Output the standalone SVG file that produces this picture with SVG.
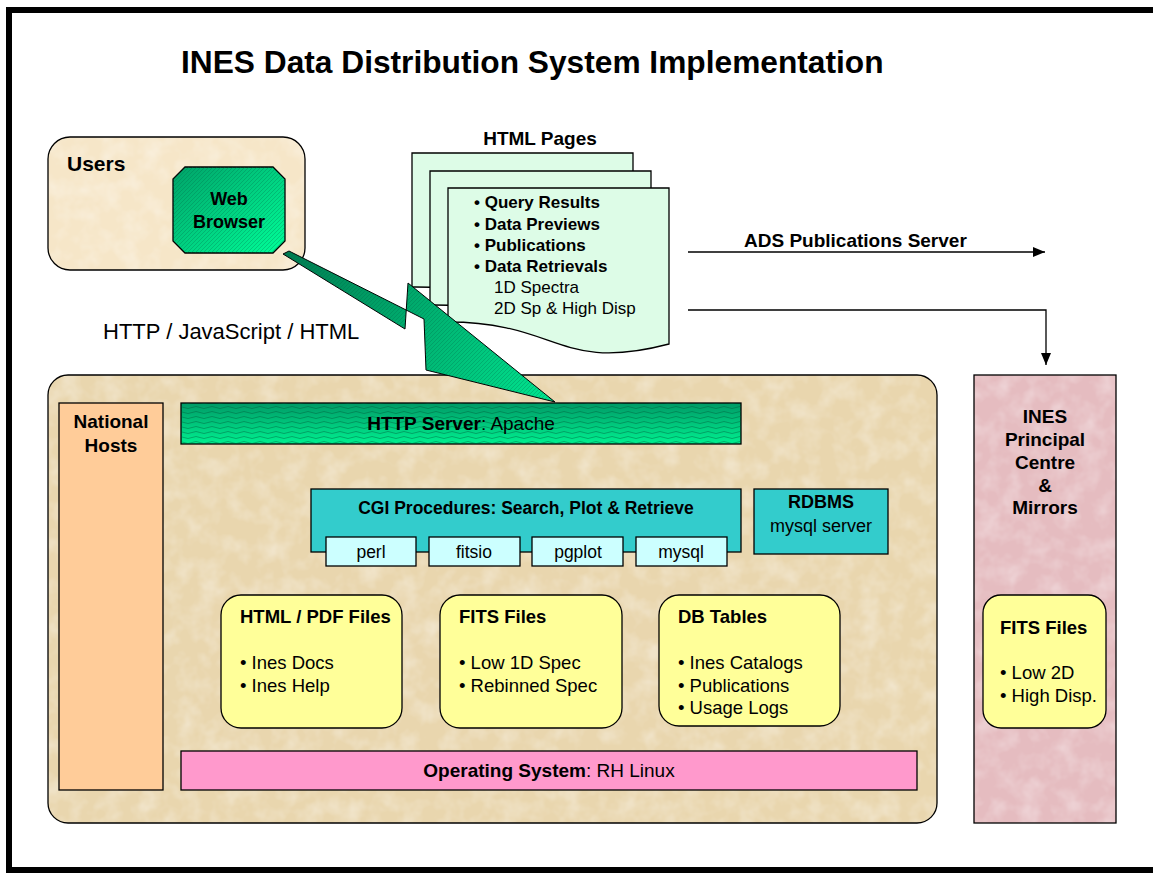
<svg xmlns="http://www.w3.org/2000/svg" width="1153" height="873" viewBox="0 0 1153 873">
<defs>
<style>
text{font-family:"Liberation Sans",Arial,sans-serif;fill:#000}
.b{font-weight:bold}
.edge{stroke:#000;stroke-width:1.3}
.conn{stroke:#000;stroke-width:1.3;fill:none}
</style>
<linearGradient id="gBrowser" x1="0" y1="0" x2="1" y2="1">
<stop offset="0" stop-color="#00a268"/><stop offset="1" stop-color="#00ff99"/>
</linearGradient>
<linearGradient id="gHttp" x1="0" y1="0" x2="0" y2="1">
<stop offset="0" stop-color="#009a66"/><stop offset="1" stop-color="#00f090"/>
</linearGradient>
<linearGradient id="gBolt" gradientUnits="userSpaceOnUse" x1="283" y1="252" x2="555" y2="402">
<stop offset="0" stop-color="#007a50"/><stop offset="1" stop-color="#00e690"/>
</linearGradient>
<pattern id="hatch" width="4" height="4" patternUnits="userSpaceOnUse">
<path d="M-1,5 L5,-1" stroke="#006644" stroke-opacity="0.35" stroke-width="0.8"/>
</pattern>
<pattern id="wave" width="16" height="5" patternUnits="userSpaceOnUse">
<path d="M0,2.5 Q4,0.5 8,2.5 T16,2.5" fill="none" stroke="#005533" stroke-opacity="0.45" stroke-width="0.9"/>
</pattern>
<filter id="grain" x="0" y="0" width="100%" height="100%">
<feTurbulence type="fractalNoise" baseFrequency="0.05" numOctaves="3" seed="4" result="t"/>
<feColorMatrix in="t" type="matrix" values="0 0 0 0 1  0 0 0 0 1  0 0 0 0 1  0 0 0 0.7 -0.28" result="n"/>
<feComposite in="n" in2="SourceAlpha" operator="in"/>
</filter>
<marker id="arrow" markerWidth="12" markerHeight="10" refX="12" refY="5" orient="auto" markerUnits="userSpaceOnUse">
<path d="M0,0 L12,5 L0,10 Z" fill="#000"/>
</marker>
</defs>

<rect x="0" y="0" width="1153" height="873" fill="#fff"/>
<rect id="frame" x="9" y="10" width="1170" height="860" fill="none" stroke="#000" stroke-width="6"/>

<text class="b" x="181" y="73" font-size="31.7">INES Data Distribution System Implementation</text>

<g id="users">
<rect x="48" y="137" width="257" height="133" rx="22" fill="#f6e6c8"/>
<rect x="48" y="137" width="257" height="133" rx="22" fill="#000" filter="url(#grain)"/>
<rect x="48" y="137" width="257" height="133" rx="22" fill="none" class="edge"/>
<text class="b" x="67" y="171" font-size="21">Users</text>
</g>

<g id="web-browser">
<polygon points="185,167 273,167 285,179 285,241 273,253 185,253 173,241 173,179" fill="url(#gBrowser)" class="edge"/>
<polygon points="185,167 273,167 285,179 285,241 273,253 185,253 173,241 173,179" fill="url(#hatch)"/>
<text class="b" x="229" y="205" font-size="18" text-anchor="middle">Web</text>
<text class="b" x="229" y="228" font-size="18" text-anchor="middle">Browser</text>
</g>

<g id="html-pages">
<text class="b" x="540" y="145" font-size="19" text-anchor="middle">HTML Pages</text>
<path d="M412,153 H633 V309 C522.5,330 522.5,286 412,287 Z" fill="#ddfce7" class="edge"/>
<path d="M430,171 H651 V327 C540.5,348 540.5,304 430,305 Z" fill="#ddfce7" class="edge"/>
<path d="M448,188 H669 V344 C558.5,373 558.5,322 448,322 Z" fill="#ddfce7" class="edge"/>
<g font-size="17">
<text class="b" x="474" y="208">• Query Results</text>
<text class="b" x="474" y="230">• Data Previews</text>
<text class="b" x="474" y="251">• Publications</text>
<text class="b" x="474" y="272">• Data Retrievals</text>
<text x="494" y="293">1D Spectra</text>
<text x="494" y="314">2D Sp &amp; High Disp</text>
</g>
</g>

<text x="103" y="339" font-size="22">HTTP / JavaScript / HTML</text>

<g id="national-system">
<rect x="48" y="375" width="889" height="448" rx="20" fill="#e9d6ae"/>
<rect x="48" y="375" width="889" height="448" rx="20" fill="#000" filter="url(#grain)"/>
<rect x="48" y="375" width="889" height="448" rx="20" fill="none" class="edge"/>
</g>

<g id="bolt">
<polygon points="289,251 424,319 426,370 555,402 408,283 405,329 283,254" fill="url(#gBolt)" stroke="#000" stroke-width="1" stroke-linejoin="miter"/>
<polygon points="289,251 424,319 426,370 555,402 408,283 405,329 283,254" fill="url(#hatch)"/>
</g>

<g id="national-hosts">
<rect x="59" y="403" width="104" height="387" fill="#ffcc99" class="edge"/>
<text class="b" x="111" y="428" font-size="19" text-anchor="middle">National</text>
<text class="b" x="111" y="452" font-size="19" text-anchor="middle">Hosts</text>
</g>

<g id="http-server">
<rect x="181" y="403" width="560" height="41" fill="url(#gHttp)" class="edge"/>
<rect x="181" y="403" width="560" height="41" fill="url(#wave)"/>
<text x="461" y="430" font-size="19" text-anchor="middle"><tspan class="b">HTTP Server</tspan>: Apache</text>
</g>

<g id="cgi">
<rect x="311" y="489" width="430" height="63" fill="#33cccc" class="edge"/>
<text class="b" x="526" y="514" font-size="17.5" text-anchor="middle">CGI Procedures: Search, Plot &amp; Retrieve</text>
<rect x="326" y="537" width="90" height="29" fill="#ccffff" class="edge"/>
<text x="371" y="558" font-size="17.5" text-anchor="middle">perl</text>
<rect x="429" y="537" width="91" height="29" fill="#ccffff" class="edge"/>
<text x="474" y="558" font-size="17.5" text-anchor="middle">fitsio</text>
<rect x="532" y="537" width="91" height="29" fill="#ccffff" class="edge"/>
<text x="578" y="558" font-size="17.5" text-anchor="middle">pgplot</text>
<rect x="636" y="537" width="91" height="29" fill="#ccffff" class="edge"/>
<text x="681" y="558" font-size="17.5" text-anchor="middle">mysql</text>
</g>

<g id="rdbms">
<rect x="754" y="489" width="134" height="65" fill="#33cccc" class="edge"/>
<text class="b" x="821" y="508" font-size="18" text-anchor="middle">RDBMS</text>
<text x="821" y="532" font-size="18" text-anchor="middle">mysql server</text>
</g>

<g id="html-pdf-files">
<rect x="221" y="595" width="181" height="133" rx="20" fill="#ffff99" class="edge"/>
<text class="b" x="240" y="623" font-size="18.5">HTML / PDF Files</text>
<text x="240" y="669" font-size="18.5">• Ines Docs</text>
<text x="240" y="692" font-size="18.5">• Ines Help</text>
</g>

<g id="fits-files">
<rect x="440" y="595" width="182" height="133" rx="20" fill="#ffff99" class="edge"/>
<text class="b" x="459" y="623" font-size="18.5">FITS Files</text>
<text x="459" y="669" font-size="18.5">• Low 1D Spec</text>
<text x="459" y="692" font-size="18.5">• Rebinned Spec</text>
</g>

<g id="db-tables">
<rect x="659" y="595" width="181" height="131" rx="20" fill="#ffff99" class="edge"/>
<text class="b" x="678" y="623" font-size="18.5">DB Tables</text>
<text x="678" y="669" font-size="18.5">• Ines Catalogs</text>
<text x="678" y="692" font-size="18.5">• Publications</text>
<text x="678" y="714" font-size="18.5">• Usage Logs</text>
</g>

<g id="operating-system">
<rect x="181" y="751" width="736" height="39" fill="#ff99cc" class="edge"/>
<text x="549" y="777" font-size="19" text-anchor="middle"><tspan class="b">Operating System</tspan>: RH Linux</text>
</g>

<g id="ines-principal-centre">
<rect x="974" y="375" width="142" height="448" fill="#e5bcc0"/>
<rect x="974" y="375" width="142" height="448" fill="#000" filter="url(#grain)"/>
<rect x="974" y="375" width="142" height="448" fill="none" class="edge"/>
<g font-size="19" text-anchor="middle">
<text class="b" x="1045" y="423">INES</text>
<text class="b" x="1045" y="446">Principal</text>
<text class="b" x="1045" y="469">Centre</text>
<text class="b" x="1045" y="492">&amp;</text>
<text class="b" x="1045" y="514">Mirrors</text>
</g>
</g>

<g id="fits-files-mirror">
<rect x="983" y="595" width="123" height="133" rx="18" fill="#ffff99" class="edge"/>
<text class="b" x="1000" y="634" font-size="18.5">FITS Files</text>
<text x="1000" y="679" font-size="18.5">• Low 2D</text>
<text x="1000" y="702" font-size="18.5">• High Disp.</text>
</g>

<g id="connectors">
<line x1="688" y1="252" x2="1045" y2="252" class="conn" marker-end="url(#arrow)"/>
<text class="b" x="744" y="247" font-size="19">ADS Publications Server</text>
<path d="M688,310 H1046 V365" class="conn" marker-end="url(#arrow)"/>
</g>
</svg>
